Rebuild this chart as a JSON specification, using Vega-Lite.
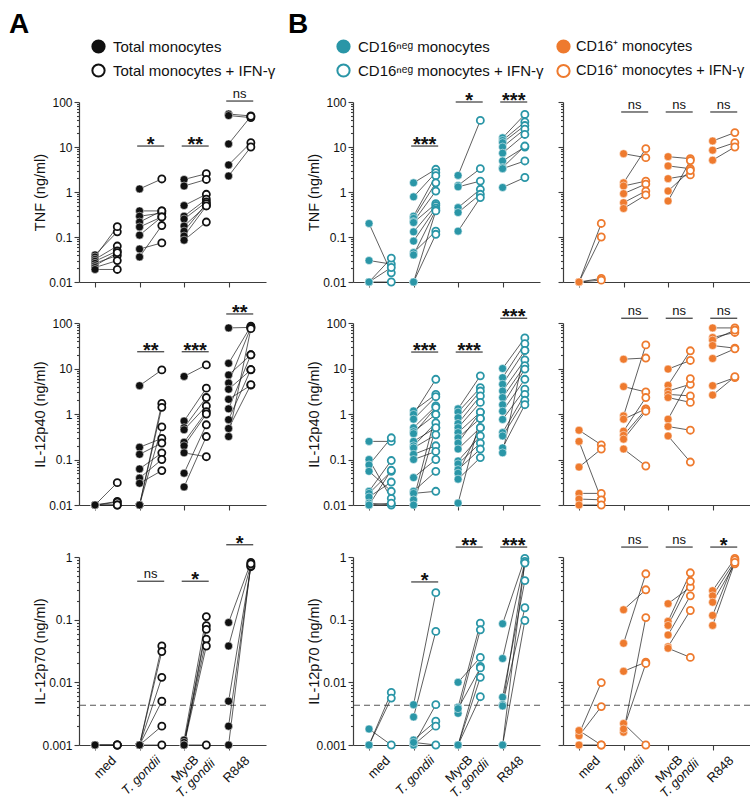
{
"$schema": "https://vega.github.io/schema/vega-lite/v6.json",
"padding": {"left": 9, "top": 39, "right": 2, "bottom": 2},
"background": "white",
"config": {
  "view": {"stroke": null},
  "font": "Liberation Sans",
  "axis": {"domainColor": "#3c3c3c", "tickColor": "#3c3c3c", "domainWidth": 1.2, "tickWidth": 1.1, "labelFontSize": 12, "labelColor": "#111111", "titleFontSize": 14.5, "titleFontWeight": "normal", "titleColor": "#111111", "labelPadding": 2, "labelFont": "Liberation Sans", "titleFont": "Liberation Sans"},
  "legend": {"labelFont": "Liberation Sans", "titleFont": "Liberation Sans"}
},
"datasets": {
"pts": [
{"p":"A1","s":1,"a":0.04,"b":0.13},{"p":"A1","s":1,"a":0.036,"b":0.17},{"p":"A1","s":1,"a":0.032,"b":0.063},{"p":"A1","s":1,"a":0.029,"b":0.049},{"p":"A1","s":1,"a":0.026,"b":0.039},{"p":"A1","s":1,"a":0.023,"b":0.045},{"p":"A1","s":1,"a":0.021,"b":0.03},{"p":"A1","s":1,"a":0.019,"b":0.019},
{"p":"A1","s":2,"a":1.17,"b":1.95},{"p":"A1","s":2,"a":0.38,"b":0.38},{"p":"A1","s":2,"a":0.29,"b":0.34},{"p":"A1","s":2,"a":0.215,"b":0.38},{"p":"A1","s":2,"a":0.167,"b":0.28},{"p":"A1","s":2,"a":0.11,"b":0.28},{"p":"A1","s":2,"a":0.054,"b":0.074},{"p":"A1","s":2,"a":0.036,"b":0.18},
{"p":"A1","s":3,"a":1.9,"b":2.55},{"p":"A1","s":3,"a":1.36,"b":1.9},{"p":"A1","s":3,"a":0.5,"b":0.89},{"p":"A1","s":3,"a":0.29,"b":0.69},{"p":"A1","s":3,"a":0.25,"b":0.6},{"p":"A1","s":3,"a":0.175,"b":0.5},{"p":"A1","s":3,"a":0.135,"b":0.55},{"p":"A1","s":3,"a":0.105,"b":0.49},{"p":"A1","s":3,"a":0.085,"b":0.215},
{"p":"A1","s":4,"a":54,"b":49},{"p":"A1","s":4,"a":50,"b":45},{"p":"A1","s":4,"a":11.7,"b":48},{"p":"A1","s":4,"a":4,"b":12.5},{"p":"A1","s":4,"a":2.27,"b":10},
{"p":"A2","s":1,"a":0.01,"b":0.031},{"p":"A2","s":1,"a":0.01,"b":0.012},{"p":"A2","s":1,"a":0.01,"b":0.0115},{"p":"A2","s":1,"a":0.01,"b":0.01},{"p":"A2","s":1,"a":0.01,"b":0.01},
{"p":"A2","s":2,"a":4.2,"b":9.3},{"p":"A2","s":2,"a":0.186,"b":0.29},{"p":"A2","s":2,"a":0.13,"b":0.23},{"p":"A2","s":2,"a":0.062,"b":0.14},{"p":"A2","s":2,"a":0.039,"b":0.1},{"p":"A2","s":2,"a":0.03,"b":0.057},{"p":"A2","s":2,"a":0.01,"b":1.71},{"p":"A2","s":2,"a":0.01,"b":1.4},{"p":"A2","s":2,"a":0.01,"b":0.52},
{"p":"A2","s":3,"a":6.7,"b":12},{"p":"A2","s":3,"a":0.7,"b":3.7},{"p":"A2","s":3,"a":0.5,"b":2.3},{"p":"A2","s":3,"a":0.45,"b":1.5},{"p":"A2","s":3,"a":0.24,"b":1.12},{"p":"A2","s":3,"a":0.2,"b":1.0},{"p":"A2","s":3,"a":0.14,"b":0.115},{"p":"A2","s":3,"a":0.05,"b":0.58},{"p":"A2","s":3,"a":0.025,"b":0.32},
{"p":"A2","s":4,"a":78,"b":80},{"p":"A2","s":4,"a":13,"b":85},{"p":"A2","s":4,"a":7.2,"b":20},{"p":"A2","s":4,"a":4.8,"b":80},{"p":"A2","s":4,"a":3.5,"b":9.3},{"p":"A2","s":4,"a":2.1,"b":4.3},{"p":"A2","s":4,"a":1.3,"b":20},{"p":"A2","s":4,"a":0.75,"b":9.5},{"p":"A2","s":4,"a":0.48,"b":4.4},{"p":"A2","s":4,"a":0.32,"b":75},
{"p":"A3","s":1,"a":0.001,"b":0.001},{"p":"A3","s":1,"a":0.001,"b":0.001},{"p":"A3","s":1,"a":0.001,"b":0.001},
{"p":"A3","s":2,"a":0.001,"b":0.038},{"p":"A3","s":2,"a":0.001,"b":0.031},{"p":"A3","s":2,"a":0.001,"b":0.012},{"p":"A3","s":2,"a":0.001,"b":0.005},{"p":"A3","s":2,"a":0.001,"b":0.002},{"p":"A3","s":2,"a":0.001,"b":0.001},
{"p":"A3","s":3,"a":0.0012,"b":0.112},{"p":"A3","s":3,"a":0.001,"b":0.08},{"p":"A3","s":3,"a":0.001,"b":0.07},{"p":"A3","s":3,"a":0.0011,"b":0.049},{"p":"A3","s":3,"a":0.001,"b":0.038},{"p":"A3","s":3,"a":0.001,"b":0.001},
{"p":"A3","s":4,"a":0.09,"b":0.82},{"p":"A3","s":4,"a":0.038,"b":0.75},{"p":"A3","s":4,"a":0.005,"b":0.7},{"p":"A3","s":4,"a":0.002,"b":0.72},{"p":"A3","s":4,"a":0.001,"b":0.78},
{"p":"B1","s":1,"a":0.2,"b":0.016},{"p":"B1","s":1,"a":0.03,"b":0.025},{"p":"B1","s":1,"a":0.01,"b":0.034},{"p":"B1","s":1,"a":0.01,"b":0.01},{"p":"B1","s":1,"a":0.01,"b":0.021},
{"p":"B1","s":2,"a":1.6,"b":3.2},{"p":"B1","s":2,"a":0.78,"b":2.7},{"p":"B1","s":2,"a":0.29,"b":2.3},{"p":"B1","s":2,"a":0.26,"b":1.6},{"p":"B1","s":2,"a":0.22,"b":1.05},{"p":"B1","s":2,"a":0.21,"b":0.55},{"p":"B1","s":2,"a":0.13,"b":0.5},{"p":"B1","s":2,"a":0.081,"b":0.44},{"p":"B1","s":2,"a":0.045,"b":0.135},{"p":"B1","s":2,"a":0.04,"b":0.4},{"p":"B1","s":2,"a":0.01,"b":0.38},{"p":"B1","s":2,"a":0.01,"b":0.115},
{"p":"B1","s":3,"a":2.34,"b":39},{"p":"B1","s":3,"a":1.4,"b":3.3},{"p":"B1","s":3,"a":1.3,"b":1.75},{"p":"B1","s":3,"a":0.45,"b":1.15},{"p":"B1","s":3,"a":0.35,"b":0.89},{"p":"B1","s":3,"a":0.135,"b":0.75},
{"p":"B1","s":4,"a":16,"b":53},{"p":"B1","s":4,"a":14,"b":36},{"p":"B1","s":4,"a":12.5,"b":30},{"p":"B1","s":4,"a":10,"b":25},{"p":"B1","s":4,"a":7.3,"b":19},{"p":"B1","s":4,"a":4.9,"b":10},{"p":"B1","s":4,"a":3.5,"b":10.5},{"p":"B1","s":4,"a":3.3,"b":4.9},{"p":"B1","s":4,"a":1.26,"b":2.1},
{"p":"B2","s":1,"a":0.25,"b":0.25},{"p":"B2","s":1,"a":0.1,"b":0.014},{"p":"B2","s":1,"a":0.076,"b":0.3},{"p":"B2","s":1,"a":0.055,"b":0.02},{"p":"B2","s":1,"a":0.02,"b":0.095},{"p":"B2","s":1,"a":0.018,"b":0.055},{"p":"B2","s":1,"a":0.015,"b":0.032},{"p":"B2","s":1,"a":0.011,"b":0.01},{"p":"B2","s":1,"a":0.01,"b":0.011},{"p":"B2","s":1,"a":0.01,"b":0.058},
{"p":"B2","s":2,"a":1.17,"b":2.7},{"p":"B2","s":2,"a":0.98,"b":5.8},{"p":"B2","s":2,"a":0.77,"b":2.4},{"p":"B2","s":2,"a":0.5,"b":1.5},{"p":"B2","s":2,"a":0.41,"b":0.98},{"p":"B2","s":2,"a":0.37,"b":1.4},{"p":"B2","s":2,"a":0.25,"b":0.5},{"p":"B2","s":2,"a":0.2,"b":0.64},{"p":"B2","s":2,"a":0.18,"b":0.35},{"p":"B2","s":2,"a":0.13,"b":0.2},{"p":"B2","s":2,"a":0.1,"b":0.15},{"p":"B2","s":2,"a":0.04,"b":0.1},{"p":"B2","s":2,"a":0.02,"b":0.055},{"p":"B2","s":2,"a":0.018,"b":0.02},{"p":"B2","s":2,"a":0.013,"b":0.98},{"p":"B2","s":2,"a":0.01,"b":0.5},
{"p":"B2","s":3,"a":1.3,"b":6.9},{"p":"B2","s":3,"a":1.1,"b":3.8},{"p":"B2","s":3,"a":0.83,"b":3.2},{"p":"B2","s":3,"a":0.62,"b":2.5},{"p":"B2","s":3,"a":0.5,"b":1.8},{"p":"B2","s":3,"a":0.39,"b":1.1},{"p":"B2","s":3,"a":0.3,"b":0.8},{"p":"B2","s":3,"a":0.23,"b":1.1},{"p":"B2","s":3,"a":0.17,"b":0.5},{"p":"B2","s":3,"a":0.093,"b":0.33},{"p":"B2","s":3,"a":0.08,"b":0.23},{"p":"B2","s":3,"a":0.06,"b":0.17},{"p":"B2","s":3,"a":0.05,"b":0.5},{"p":"B2","s":3,"a":0.037,"b":0.11},{"p":"B2","s":3,"a":0.011,"b":0.8},
{"p":"B2","s":4,"a":10,"b":47},{"p":"B2","s":4,"a":6.3,"b":35},{"p":"B2","s":4,"a":4.5,"b":25},{"p":"B2","s":4,"a":3.2,"b":15.5},{"p":"B2","s":4,"a":2.3,"b":11.5},{"p":"B2","s":4,"a":1.6,"b":9.7},{"p":"B2","s":4,"a":1.15,"b":5.8},{"p":"B2","s":4,"a":0.76,"b":3.5},{"p":"B2","s":4,"a":0.39,"b":2.7},{"p":"B2","s":4,"a":0.33,"b":2.0},{"p":"B2","s":4,"a":0.18,"b":1.6},{"p":"B2","s":4,"a":0.14,"b":25},
{"p":"B3","s":1,"a":0.0018,"b":0.001},{"p":"B3","s":1,"a":0.001,"b":0.0069},{"p":"B3","s":1,"a":0.001,"b":0.0056},
{"p":"B3","s":2,"a":0.0044,"b":0.27},{"p":"B3","s":2,"a":0.0028,"b":0.065},{"p":"B3","s":2,"a":0.0012,"b":0.0024},{"p":"B3","s":2,"a":0.001,"b":0.002},{"p":"B3","s":2,"a":0.001,"b":0.0044},{"p":"B3","s":2,"a":0.0011,"b":0.001},
{"p":"B3","s":3,"a":0.01,"b":0.025},{"p":"B3","s":3,"a":0.004,"b":0.088},{"p":"B3","s":3,"a":0.0032,"b":0.069},{"p":"B3","s":3,"a":0.001,"b":0.018},{"p":"B3","s":3,"a":0.001,"b":0.012},{"p":"B3","s":3,"a":0.001,"b":0.0059},{"p":"B3","s":3,"a":0.0038,"b":0.017},
{"p":"B3","s":4,"a":0.086,"b":0.95},{"p":"B3","s":4,"a":0.024,"b":0.83},{"p":"B3","s":4,"a":0.0058,"b":0.42},{"p":"B3","s":4,"a":0.0044,"b":0.155},{"p":"B3","s":4,"a":0.001,"b":0.097},{"p":"B3","s":4,"a":0.001,"b":0.85},{"p":"B3","s":4,"a":0.0042,"b":0.8},
{"p":"C1","s":1,"a":0.01,"b":0.2},{"p":"C1","s":1,"a":0.01,"b":0.1},{"p":"C1","s":1,"a":0.01,"b":0.012},{"p":"C1","s":1,"a":0.01,"b":0.011},
{"p":"C1","s":2,"a":7.1,"b":5.8},{"p":"C1","s":2,"a":1.6,"b":9.2},{"p":"C1","s":2,"a":1.36,"b":1.75},{"p":"C1","s":2,"a":0.92,"b":1.5},{"p":"C1","s":2,"a":0.58,"b":1.05},{"p":"C1","s":2,"a":0.43,"b":0.86},
{"p":"C1","s":3,"a":6.1,"b":5.5},{"p":"C1","s":3,"a":3.8,"b":3.3},{"p":"C1","s":3,"a":1.98,"b":2.4},{"p":"C1","s":3,"a":1.05,"b":3.0},{"p":"C1","s":3,"a":0.63,"b":5.0},
{"p":"C1","s":4,"a":13.6,"b":20.9},{"p":"C1","s":4,"a":8.5,"b":12.5},{"p":"C1","s":4,"a":5.1,"b":10},
{"p":"C2","s":1,"a":0.44,"b":0.21},{"p":"C2","s":1,"a":0.25,"b":0.0135},{"p":"C2","s":1,"a":0.068,"b":0.17},{"p":"C2","s":1,"a":0.018,"b":0.018},{"p":"C2","s":1,"a":0.0135,"b":0.013},{"p":"C2","s":1,"a":0.01,"b":0.01},
{"p":"C2","s":2,"a":16,"b":17},{"p":"C2","s":2,"a":4.0,"b":3.05},{"p":"C2","s":2,"a":0.91,"b":33},{"p":"C2","s":2,"a":0.77,"b":1.3},{"p":"C2","s":2,"a":0.42,"b":2.3},{"p":"C2","s":2,"a":0.34,"b":1.27},{"p":"C2","s":2,"a":0.28,"b":1.15},{"p":"C2","s":2,"a":0.17,"b":0.072},
{"p":"C2","s":3,"a":9.7,"b":15},{"p":"C2","s":3,"a":4.3,"b":24.5},{"p":"C2","s":3,"a":3.2,"b":4.5},{"p":"C2","s":3,"a":2.7,"b":2.5},{"p":"C2","s":3,"a":2.3,"b":1.8},{"p":"C2","s":3,"a":0.77,"b":6.0},{"p":"C2","s":3,"a":0.53,"b":0.44},{"p":"C2","s":3,"a":0.33,"b":0.088},
{"p":"C2","s":4,"a":78,"b":78},{"p":"C2","s":4,"a":48,"b":62},{"p":"C2","s":4,"a":42,"b":70},{"p":"C2","s":4,"a":32,"b":28},{"p":"C2","s":4,"a":16.6,"b":27},{"p":"C2","s":4,"a":4.2,"b":6.3},{"p":"C2","s":4,"a":2.6,"b":6.6},
{"p":"C3","s":1,"a":0.0015,"b":0.0099},{"p":"C3","s":1,"a":0.0014,"b":0.0041},{"p":"C3","s":1,"a":0.0017,"b":0.001},{"p":"C3","s":1,"a":0.001,"b":0.001},
{"p":"C3","s":2,"a":0.144,"b":0.3},{"p":"C3","s":2,"a":0.042,"b":0.54},{"p":"C3","s":2,"a":0.015,"b":0.021},{"p":"C3","s":2,"a":0.0022,"b":0.001},{"p":"C3","s":2,"a":0.0016,"b":0.108},{"p":"C3","s":2,"a":0.0018,"b":0.02},
{"p":"C3","s":3,"a":0.18,"b":0.33},{"p":"C3","s":3,"a":0.094,"b":0.56},{"p":"C3","s":3,"a":0.081,"b":0.41},{"p":"C3","s":3,"a":0.057,"b":0.24},{"p":"C3","s":3,"a":0.037,"b":0.14},{"p":"C3","s":3,"a":0.035,"b":0.025},
{"p":"C3","s":4,"a":0.29,"b":0.95},{"p":"C3","s":4,"a":0.24,"b":0.86},{"p":"C3","s":4,"a":0.19,"b":0.78},{"p":"C3","s":4,"a":0.117,"b":0.9},{"p":"C3","s":4,"a":0.081,"b":0.82}
],
"ann": [
{"p":"A1","s":2,"y":10.5,"t":"*"},{"p":"A1","s":3,"y":10.5,"t":"**"},{"p":"A1","s":4,"y":105,"t":"ns"},
{"p":"A2","s":2,"y":23.4,"t":"**"},{"p":"A2","s":3,"y":23.4,"t":"***"},{"p":"A2","s":4,"y":158,"t":"**"},
{"p":"A3","s":2,"y":0.41,"t":"ns"},{"p":"A3","s":3,"y":0.41,"t":"*"},{"p":"A3","s":4,"y":1.57,"t":"*"},
{"p":"B1","s":2,"y":10.5,"t":"***"},{"p":"B1","s":3,"y":100,"t":"*"},{"p":"B1","s":4,"y":100,"t":"***"},
{"p":"B2","s":2,"y":23,"t":"***"},{"p":"B2","s":3,"y":23,"t":"***"},{"p":"B2","s":4,"y":127,"t":"***"},
{"p":"B3","s":2,"y":0.4,"t":"*"},{"p":"B3","s":3,"y":1.44,"t":"**"},{"p":"B3","s":4,"y":1.44,"t":"***"},
{"p":"C1","s":2,"y":60,"t":"ns"},{"p":"C1","s":3,"y":60,"t":"ns"},{"p":"C1","s":4,"y":60,"t":"ns"},
{"p":"C2","s":2,"y":127,"t":"ns"},{"p":"C2","s":3,"y":127,"t":"ns"},{"p":"C2","s":4,"y":127,"t":"ns"},
{"p":"C3","s":2,"y":1.44,"t":"ns"},{"p":"C3","s":3,"y":1.44,"t":"ns"},{"p":"C3","s":4,"y":1.44,"t":"*"}
],
"xl": [
{"s":1,"t":"med"},{"s":2,"t":"T. gondii"},{"s":3,"t":"MycB"},{"s":3,"t":"T. gondii"},{"s":4,"t":"R848"}
],
"lod": [{"v":0.0043}]
},
"columns": 3,
"align": "each",
"spacing": {"row": 12, "column": 12},
"resolve": {"scale": {"fill": "independent"}, "legend": {"fill": "independent"}},
"concat": [
{"width":187,"height":180,"layer":[
{"data":{"name":"pts"},"transform":[{"filter":"datum.p=='A1'"}],"mark":{"type":"rule","xOffset":-11.13,"x2Offset":11.13,"color":"#1a1a1a","strokeWidth":0.7},
 "encoding":{"x":{"field":"s","type":"quantitative","scale":{"domain":[0.39,4.59],"nice":false,"zero":false},"axis":{"values":[0.75,1.25,1.75,2.25,2.75,3.25,3.75,4.25],"labels":false,"title":null,"grid":false,"tickSize":5,"minExtent":5}},"x2":{"field":"s"},
 "y":{"field":"a","type":"quantitative","scale":{"type":"log","domain":[0.01,100],"nice":false},"axis":{"values":[0.01,0.02,0.03,0.04,0.05,0.06,0.07,0.08,0.09,0.1,0.2,0.3,0.4,0.5,0.6,0.7,0.8,0.9,1,2,3,4,5,6,7,8,9,10,20,30,40,50,60,70,80,90,100],"labelExpr":"indexof([0.001,0.01,0.1,1,10,100], datum.value) >= 0 ? '' + datum.value : ''","tickSize":{"condition":{"test":"indexof([0.001,0.01,0.1,1,10,100], datum.value) >= 0","value":5},"value":2.5},"grid":false,"labelOverlap":false,"labelFlush":false,"title":"TNF (ng/ml)","titleX":-32,"titleY":90,"titleAngle":270,"titleBaseline":"bottom","titleAlign":"center"}},"y2":{"field":"b"}}},
{"data":{"name":"pts"},"transform":[{"filter":"datum.p=='A1'"}],"mark":{"type":"circle","xOffset":-11.13,"size":64,"opacity":1,"stroke":"#ffffff","strokeWidth":0.5},
 "encoding":{"x":{"field":"s","type":"quantitative"},"y":{"field":"a","type":"quantitative"},"fill":{"datum":"Total monocytes","type":"nominal","scale":{"domain":["Total monocytes","Total monocytes + IFN-γ"],"range":["#111111","#ffffff"]},
 "legend":{"orient":"none","legendX":-70,"legendY":-63,"direction":"vertical","title":"A","titleOrient":"left","titleAnchor":"start","titleBaseline":"bottom","titleFontSize":28,"titleFontWeight":"bold","titleColor":"#000000","titlePadding":61,"labelFontSize":15,"labelColor":"#111111","labelLimit":300,"labelOffset":7,"symbolType":"circle","symbolSize":150,"symbolStrokeWidth":2,"symbolStrokeColor":"#111111","symbolOpacity":1,"rowPadding":3,"padding":0,"encode":{"symbols":{"update":{"stroke":{"value":"#111111"},"strokeWidth":{"value":2}}}}}}}},
{"data":{"name":"pts"},"transform":[{"filter":"datum.p=='A1'"}],"mark":{"type":"circle","xOffset":11.13,"size":50,"opacity":1,"stroke":"#111111","strokeWidth":1.8},
 "encoding":{"x":{"field":"s","type":"quantitative"},"y":{"field":"b","type":"quantitative"},"fill":{"datum":"Total monocytes + IFN-γ","type":"nominal"}}},
{"data":{"name":"ann"},"transform":[{"filter":"datum.p=='A1'"}],"mark":{"type":"rule","xOffset":-13.5,"x2Offset":13.5,"color":"#555555","strokeWidth":1.4},
 "encoding":{"x":{"field":"s","type":"quantitative"},"x2":{"field":"s"},"y":{"field":"y","type":"quantitative"}}},
{"data":{"name":"ann"},"transform":[{"filter":"datum.p=='A1' && datum.t!='ns'"}],"mark":{"type":"text","fontSize":20,"fontWeight":"bold","baseline":"alphabetic","dy":5,"color":"#111111"},
 "encoding":{"x":{"field":"s","type":"quantitative"},"y":{"field":"y","type":"quantitative"},"text":{"field":"t"}}},
{"data":{"name":"ann"},"transform":[{"filter":"datum.p=='A1' && datum.t=='ns'"}],"mark":{"type":"text","fontSize":13,"baseline":"alphabetic","dy":-3,"color":"#111111"},
 "encoding":{"x":{"field":"s","type":"quantitative"},"y":{"field":"y","type":"quantitative"},"text":{"field":"t"}}}
]},
{"width":187,"height":180,"layer":[
{"data":{"name":"pts"},"transform":[{"filter":"datum.p=='B1'"}],"mark":{"type":"rule","xOffset":-11.13,"x2Offset":11.13,"color":"#1a1a1a","strokeWidth":0.7},
 "encoding":{"x":{"field":"s","type":"quantitative","scale":{"domain":[0.39,4.59],"nice":false,"zero":false},"axis":{"values":[0.75,1.25,1.75,2.25,2.75,3.25,3.75,4.25],"labels":false,"title":null,"grid":false,"tickSize":5,"minExtent":5}},"x2":{"field":"s"},
 "y":{"field":"a","type":"quantitative","scale":{"type":"log","domain":[0.01,100],"nice":false},"axis":{"values":[0.01,0.02,0.03,0.04,0.05,0.06,0.07,0.08,0.09,0.1,0.2,0.3,0.4,0.5,0.6,0.7,0.8,0.9,1,2,3,4,5,6,7,8,9,10,20,30,40,50,60,70,80,90,100],"labelExpr":"indexof([0.001,0.01,0.1,1,10,100], datum.value) >= 0 ? '' + datum.value : ''","tickSize":{"condition":{"test":"indexof([0.001,0.01,0.1,1,10,100], datum.value) >= 0","value":5},"value":2.5},"grid":false,"labelOverlap":false,"labelFlush":false,"title":"TNF (ng/ml)","titleX":-32,"titleY":90,"titleAngle":270,"titleBaseline":"bottom","titleAlign":"center"}},"y2":{"field":"b"}}},
{"data":{"name":"pts"},"transform":[{"filter":"datum.p=='B1'"}],"mark":{"type":"circle","xOffset":-11.13,"size":64,"opacity":1,"stroke":"#ffffff","strokeWidth":0.5},
 "encoding":{"x":{"field":"s","type":"quantitative"},"y":{"field":"a","type":"quantitative"},"fill":{"datum":"CD16ⁿᵉᵍ monocytes","type":"nominal","scale":{"domain":["CD16ⁿᵉᵍ monocytes","CD16ⁿᵉᵍ monocytes + IFN-γ"],"range":["#2a96a7","#ffffff"]},
 "legend":{"orient":"none","legendX":-65,"legendY":-63,"direction":"vertical","title":"B","titleOrient":"left","titleAnchor":"start","titleBaseline":"bottom","titleFontSize":28,"titleFontWeight":"bold","titleColor":"#000000","titlePadding":27,"labelFontSize":15,"labelColor":"#111111","labelLimit":300,"labelOffset":7,"symbolType":"circle","symbolSize":150,"symbolStrokeWidth":2,"symbolStrokeColor":"#2a96a7","symbolOpacity":1,"rowPadding":3,"padding":0,"encode":{"symbols":{"update":{"stroke":{"value":"#2a96a7"},"strokeWidth":{"value":2}}}}}}}},
{"data":{"name":"pts"},"transform":[{"filter":"datum.p=='B1'"}],"mark":{"type":"circle","xOffset":11.13,"size":50,"opacity":1,"stroke":"#2a96a7","strokeWidth":1.8},
 "encoding":{"x":{"field":"s","type":"quantitative"},"y":{"field":"b","type":"quantitative"},"fill":{"datum":"CD16ⁿᵉᵍ monocytes + IFN-γ","type":"nominal"}}},
{"data":{"name":"ann"},"transform":[{"filter":"datum.p=='B1'"}],"mark":{"type":"rule","xOffset":-13.5,"x2Offset":13.5,"color":"#555555","strokeWidth":1.4},
 "encoding":{"x":{"field":"s","type":"quantitative"},"x2":{"field":"s"},"y":{"field":"y","type":"quantitative"}}},
{"data":{"name":"ann"},"transform":[{"filter":"datum.p=='B1' && datum.t!='ns'"}],"mark":{"type":"text","fontSize":20,"fontWeight":"bold","baseline":"alphabetic","dy":5,"color":"#111111"},
 "encoding":{"x":{"field":"s","type":"quantitative"},"y":{"field":"y","type":"quantitative"},"text":{"field":"t"}}},
{"data":{"name":"ann"},"transform":[{"filter":"datum.p=='B1' && datum.t=='ns'"}],"mark":{"type":"text","fontSize":13,"baseline":"alphabetic","dy":-3,"color":"#111111"},
 "encoding":{"x":{"field":"s","type":"quantitative"},"y":{"field":"y","type":"quantitative"},"text":{"field":"t"}}}
]},
{"width":187,"height":180,"layer":[
{"data":{"name":"pts"},"transform":[{"filter":"datum.p=='C1'"}],"mark":{"type":"rule","xOffset":-11.13,"x2Offset":11.13,"color":"#1a1a1a","strokeWidth":0.7},
 "encoding":{"x":{"field":"s","type":"quantitative","scale":{"domain":[0.39,4.59],"nice":false,"zero":false},"axis":{"values":[0.75,1.25,1.75,2.25,2.75,3.25,3.75,4.25],"labels":false,"title":null,"grid":false,"tickSize":5,"minExtent":5}},"x2":{"field":"s"},
 "y":{"field":"a","type":"quantitative","scale":{"type":"log","domain":[0.01,100],"nice":false},"axis":{"values":[0.01,0.02,0.03,0.04,0.05,0.06,0.07,0.08,0.09,0.1,0.2,0.3,0.4,0.5,0.6,0.7,0.8,0.9,1,2,3,4,5,6,7,8,9,10,20,30,40,50,60,70,80,90,100],"labels":false,"tickSize":{"condition":{"test":"indexof([0.001,0.01,0.1,1,10,100], datum.value) >= 0","value":5},"value":2.5},"grid":false,"title":null}},"y2":{"field":"b"}}},
{"data":{"name":"pts"},"transform":[{"filter":"datum.p=='C1'"}],"mark":{"type":"circle","xOffset":-11.13,"size":64,"opacity":1,"stroke":"#ffffff","strokeWidth":0.5},
 "encoding":{"x":{"field":"s","type":"quantitative"},"y":{"field":"a","type":"quantitative"},"fill":{"datum":"CD16⁺ monocytes","type":"nominal","scale":{"domain":["CD16⁺ monocytes","CD16⁺ monocytes + IFN-γ"],"range":["#ee7a2e","#ffffff"]},
 "legend":{"orient":"none","legendX":-7,"legendY":-63,"direction":"vertical","title":null,"labelFontSize":14.5,"labelColor":"#111111","labelLimit":300,"labelOffset":5,"symbolType":"circle","symbolSize":150,"symbolStrokeWidth":2,"symbolStrokeColor":"#ee7a2e","symbolOpacity":1,"rowPadding":3.5,"padding":0,"encode":{"symbols":{"update":{"stroke":{"value":"#ee7a2e"},"strokeWidth":{"value":2}}}}}}}},
{"data":{"name":"pts"},"transform":[{"filter":"datum.p=='C1'"}],"mark":{"type":"circle","xOffset":11.13,"size":50,"opacity":1,"stroke":"#ee7a2e","strokeWidth":1.8},
 "encoding":{"x":{"field":"s","type":"quantitative"},"y":{"field":"b","type":"quantitative"},"fill":{"datum":"CD16⁺ monocytes + IFN-γ","type":"nominal"}}},
{"data":{"name":"ann"},"transform":[{"filter":"datum.p=='C1'"}],"mark":{"type":"rule","xOffset":-13.5,"x2Offset":13.5,"color":"#555555","strokeWidth":1.4},
 "encoding":{"x":{"field":"s","type":"quantitative"},"x2":{"field":"s"},"y":{"field":"y","type":"quantitative"}}},
{"data":{"name":"ann"},"transform":[{"filter":"datum.p=='C1' && datum.t!='ns'"}],"mark":{"type":"text","fontSize":20,"fontWeight":"bold","baseline":"alphabetic","dy":5,"color":"#111111"},
 "encoding":{"x":{"field":"s","type":"quantitative"},"y":{"field":"y","type":"quantitative"},"text":{"field":"t"}}},
{"data":{"name":"ann"},"transform":[{"filter":"datum.p=='C1' && datum.t=='ns'"}],"mark":{"type":"text","fontSize":13,"baseline":"alphabetic","dy":-3,"color":"#111111"},
 "encoding":{"x":{"field":"s","type":"quantitative"},"y":{"field":"y","type":"quantitative"},"text":{"field":"t"}}}
]},
{"width":187,"height":182,"layer":[
{"data":{"name":"pts"},"transform":[{"filter":"datum.p=='A2'"}],"mark":{"type":"rule","xOffset":-11.13,"x2Offset":11.13,"color":"#1a1a1a","strokeWidth":0.7},
 "encoding":{"x":{"field":"s","type":"quantitative","scale":{"domain":[0.39,4.59],"nice":false,"zero":false},"axis":{"values":[0.75,1.25,1.75,2.25,2.75,3.25,3.75,4.25],"labels":false,"title":null,"grid":false,"tickSize":5,"minExtent":16}},"x2":{"field":"s"},
 "y":{"field":"a","type":"quantitative","scale":{"type":"log","domain":[0.01,100],"nice":false},"axis":{"values":[0.01,0.02,0.03,0.04,0.05,0.06,0.07,0.08,0.09,0.1,0.2,0.3,0.4,0.5,0.6,0.7,0.8,0.9,1,2,3,4,5,6,7,8,9,10,20,30,40,50,60,70,80,90,100],"labelExpr":"indexof([0.001,0.01,0.1,1,10,100], datum.value) >= 0 ? '' + datum.value : ''","tickSize":{"condition":{"test":"indexof([0.001,0.01,0.1,1,10,100], datum.value) >= 0","value":5},"value":2.5},"grid":false,"labelOverlap":false,"labelFlush":false,"title":"IL-12p40 (ng/ml)","titleX":-32,"titleY":91,"titleAngle":270,"titleBaseline":"bottom","titleAlign":"center"}},"y2":{"field":"b"}}},
{"data":{"name":"pts"},"transform":[{"filter":"datum.p=='A2'"}],"mark":{"type":"circle","xOffset":-11.13,"size":64,"opacity":1,"stroke":"#ffffff","strokeWidth":0.5,"fill":"#111111"},
 "encoding":{"x":{"field":"s","type":"quantitative"},"y":{"field":"a","type":"quantitative"}}},
{"data":{"name":"pts"},"transform":[{"filter":"datum.p=='A2'"}],"mark":{"type":"circle","xOffset":11.13,"size":50,"opacity":1,"stroke":"#111111","strokeWidth":1.8,"fill":"#ffffff"},
 "encoding":{"x":{"field":"s","type":"quantitative"},"y":{"field":"b","type":"quantitative"}}},
{"data":{"name":"ann"},"transform":[{"filter":"datum.p=='A2'"}],"mark":{"type":"rule","xOffset":-13.5,"x2Offset":13.5,"color":"#555555","strokeWidth":1.4},
 "encoding":{"x":{"field":"s","type":"quantitative"},"x2":{"field":"s"},"y":{"field":"y","type":"quantitative"}}},
{"data":{"name":"ann"},"transform":[{"filter":"datum.p=='A2' && datum.t!='ns'"}],"mark":{"type":"text","fontSize":20,"fontWeight":"bold","baseline":"alphabetic","dy":5,"color":"#111111"},
 "encoding":{"x":{"field":"s","type":"quantitative"},"y":{"field":"y","type":"quantitative"},"text":{"field":"t"}}},
{"data":{"name":"ann"},"transform":[{"filter":"datum.p=='A2' && datum.t=='ns'"}],"mark":{"type":"text","fontSize":13,"baseline":"alphabetic","dy":-3,"color":"#111111"},
 "encoding":{"x":{"field":"s","type":"quantitative"},"y":{"field":"y","type":"quantitative"},"text":{"field":"t"}}}
]},
{"width":187,"height":182,"layer":[
{"data":{"name":"pts"},"transform":[{"filter":"datum.p=='B2'"}],"mark":{"type":"rule","xOffset":-11.13,"x2Offset":11.13,"color":"#1a1a1a","strokeWidth":0.7},
 "encoding":{"x":{"field":"s","type":"quantitative","scale":{"domain":[0.39,4.59],"nice":false,"zero":false},"axis":{"values":[0.75,1.25,1.75,2.25,2.75,3.25,3.75,4.25],"labels":false,"title":null,"grid":false,"tickSize":5,"minExtent":16}},"x2":{"field":"s"},
 "y":{"field":"a","type":"quantitative","scale":{"type":"log","domain":[0.01,100],"nice":false},"axis":{"values":[0.01,0.02,0.03,0.04,0.05,0.06,0.07,0.08,0.09,0.1,0.2,0.3,0.4,0.5,0.6,0.7,0.8,0.9,1,2,3,4,5,6,7,8,9,10,20,30,40,50,60,70,80,90,100],"labelExpr":"indexof([0.001,0.01,0.1,1,10,100], datum.value) >= 0 ? '' + datum.value : ''","tickSize":{"condition":{"test":"indexof([0.001,0.01,0.1,1,10,100], datum.value) >= 0","value":5},"value":2.5},"grid":false,"labelOverlap":false,"labelFlush":false,"title":"IL-12p40 (ng/ml)","titleX":-32,"titleY":91,"titleAngle":270,"titleBaseline":"bottom","titleAlign":"center"}},"y2":{"field":"b"}}},
{"data":{"name":"pts"},"transform":[{"filter":"datum.p=='B2'"}],"mark":{"type":"circle","xOffset":-11.13,"size":64,"opacity":1,"stroke":"#ffffff","strokeWidth":0.5,"fill":"#2a96a7"},
 "encoding":{"x":{"field":"s","type":"quantitative"},"y":{"field":"a","type":"quantitative"}}},
{"data":{"name":"pts"},"transform":[{"filter":"datum.p=='B2'"}],"mark":{"type":"circle","xOffset":11.13,"size":50,"opacity":1,"stroke":"#2a96a7","strokeWidth":1.8,"fill":"#ffffff"},
 "encoding":{"x":{"field":"s","type":"quantitative"},"y":{"field":"b","type":"quantitative"}}},
{"data":{"name":"ann"},"transform":[{"filter":"datum.p=='B2'"}],"mark":{"type":"rule","xOffset":-13.5,"x2Offset":13.5,"color":"#555555","strokeWidth":1.4},
 "encoding":{"x":{"field":"s","type":"quantitative"},"x2":{"field":"s"},"y":{"field":"y","type":"quantitative"}}},
{"data":{"name":"ann"},"transform":[{"filter":"datum.p=='B2' && datum.t!='ns'"}],"mark":{"type":"text","fontSize":20,"fontWeight":"bold","baseline":"alphabetic","dy":5,"color":"#111111"},
 "encoding":{"x":{"field":"s","type":"quantitative"},"y":{"field":"y","type":"quantitative"},"text":{"field":"t"}}},
{"data":{"name":"ann"},"transform":[{"filter":"datum.p=='B2' && datum.t=='ns'"}],"mark":{"type":"text","fontSize":13,"baseline":"alphabetic","dy":-3,"color":"#111111"},
 "encoding":{"x":{"field":"s","type":"quantitative"},"y":{"field":"y","type":"quantitative"},"text":{"field":"t"}}}
]},
{"width":187,"height":182,"layer":[
{"data":{"name":"pts"},"transform":[{"filter":"datum.p=='C2'"}],"mark":{"type":"rule","xOffset":-11.13,"x2Offset":11.13,"color":"#1a1a1a","strokeWidth":0.7},
 "encoding":{"x":{"field":"s","type":"quantitative","scale":{"domain":[0.39,4.59],"nice":false,"zero":false},"axis":{"values":[0.75,1.25,1.75,2.25,2.75,3.25,3.75,4.25],"labels":false,"title":null,"grid":false,"tickSize":5,"minExtent":16}},"x2":{"field":"s"},
 "y":{"field":"a","type":"quantitative","scale":{"type":"log","domain":[0.01,100],"nice":false},"axis":{"values":[0.01,0.02,0.03,0.04,0.05,0.06,0.07,0.08,0.09,0.1,0.2,0.3,0.4,0.5,0.6,0.7,0.8,0.9,1,2,3,4,5,6,7,8,9,10,20,30,40,50,60,70,80,90,100],"labels":false,"tickSize":{"condition":{"test":"indexof([0.001,0.01,0.1,1,10,100], datum.value) >= 0","value":5},"value":2.5},"grid":false,"title":null}},"y2":{"field":"b"}}},
{"data":{"name":"pts"},"transform":[{"filter":"datum.p=='C2'"}],"mark":{"type":"circle","xOffset":-11.13,"size":64,"opacity":1,"stroke":"#ffffff","strokeWidth":0.5,"fill":"#ee7a2e"},
 "encoding":{"x":{"field":"s","type":"quantitative"},"y":{"field":"a","type":"quantitative"}}},
{"data":{"name":"pts"},"transform":[{"filter":"datum.p=='C2'"}],"mark":{"type":"circle","xOffset":11.13,"size":50,"opacity":1,"stroke":"#ee7a2e","strokeWidth":1.8,"fill":"#ffffff"},
 "encoding":{"x":{"field":"s","type":"quantitative"},"y":{"field":"b","type":"quantitative"}}},
{"data":{"name":"ann"},"transform":[{"filter":"datum.p=='C2'"}],"mark":{"type":"rule","xOffset":-13.5,"x2Offset":13.5,"color":"#555555","strokeWidth":1.4},
 "encoding":{"x":{"field":"s","type":"quantitative"},"x2":{"field":"s"},"y":{"field":"y","type":"quantitative"}}},
{"data":{"name":"ann"},"transform":[{"filter":"datum.p=='C2' && datum.t!='ns'"}],"mark":{"type":"text","fontSize":20,"fontWeight":"bold","baseline":"alphabetic","dy":5,"color":"#111111"},
 "encoding":{"x":{"field":"s","type":"quantitative"},"y":{"field":"y","type":"quantitative"},"text":{"field":"t"}}},
{"data":{"name":"ann"},"transform":[{"filter":"datum.p=='C2' && datum.t=='ns'"}],"mark":{"type":"text","fontSize":13,"baseline":"alphabetic","dy":-3,"color":"#111111"},
 "encoding":{"x":{"field":"s","type":"quantitative"},"y":{"field":"y","type":"quantitative"},"text":{"field":"t"}}}
]},
{"width":187,"height":188,"layer":[
{"data":{"name":"lod"},"mark":{"type":"rule","strokeDash":[6,4],"color":"#555555","strokeWidth":1.1},
 "encoding":{"y":{"field":"v","type":"quantitative","scale":{"type":"log","domain":[0.001,1],"nice":false},"axis":{"values":[0.001,0.002,0.003,0.004,0.005,0.006,0.007,0.008,0.009,0.01,0.02,0.03,0.04,0.05,0.06,0.07,0.08,0.09,0.1,0.2,0.3,0.4,0.5,0.6,0.7,0.8,0.9,1],"labelExpr":"indexof([0.001,0.01,0.1,1,10,100], datum.value) >= 0 ? '' + datum.value : ''","tickSize":{"condition":{"test":"indexof([0.001,0.01,0.1,1,10,100], datum.value) >= 0","value":5},"value":2.5},"grid":false,"labelOverlap":false,"labelFlush":false,"title":"IL-12p70 (ng/ml)","titleX":-32,"titleY":94,"titleAngle":270,"titleBaseline":"bottom","titleAlign":"center"}}}},
{"data":{"name":"pts"},"transform":[{"filter":"datum.p=='A3'"}],"mark":{"type":"rule","xOffset":-11.13,"x2Offset":11.13,"color":"#1a1a1a","strokeWidth":0.7},
 "encoding":{"x":{"field":"s","type":"quantitative","scale":{"domain":[0.39,4.59],"nice":false,"zero":false},"axis":{"values":[0.75,1.25,1.75,2.25,2.75,3.25,3.75,4.25],"labels":false,"title":null,"grid":false,"tickSize":5}},"x2":{"field":"s"},
 "y":{"field":"a","type":"quantitative"},"y2":{"field":"b"}}},
{"data":{"name":"pts"},"transform":[{"filter":"datum.p=='A3'"}],"mark":{"type":"circle","xOffset":-11.13,"size":64,"opacity":1,"stroke":"#ffffff","strokeWidth":0.5,"fill":"#111111"},
 "encoding":{"x":{"field":"s","type":"quantitative"},"y":{"field":"a","type":"quantitative"}}},
{"data":{"name":"pts"},"transform":[{"filter":"datum.p=='A3'"}],"mark":{"type":"circle","xOffset":11.13,"size":50,"opacity":1,"stroke":"#111111","strokeWidth":1.8,"fill":"#ffffff"},
 "encoding":{"x":{"field":"s","type":"quantitative"},"y":{"field":"b","type":"quantitative"}}},
{"data":{"name":"ann"},"transform":[{"filter":"datum.p=='A3'"}],"mark":{"type":"rule","xOffset":-13.5,"x2Offset":13.5,"color":"#555555","strokeWidth":1.4},
 "encoding":{"x":{"field":"s","type":"quantitative"},"x2":{"field":"s"},"y":{"field":"y","type":"quantitative"}}},
{"data":{"name":"ann"},"transform":[{"filter":"datum.p=='A3' && datum.t!='ns'"}],"mark":{"type":"text","fontSize":20,"fontWeight":"bold","baseline":"alphabetic","dy":5,"color":"#111111"},
 "encoding":{"x":{"field":"s","type":"quantitative"},"y":{"field":"y","type":"quantitative"},"text":{"field":"t"}}},
{"data":{"name":"ann"},"transform":[{"filter":"datum.p=='A3' && datum.t=='ns'"}],"mark":{"type":"text","fontSize":13,"baseline":"alphabetic","dy":-3,"color":"#111111"},
 "encoding":{"x":{"field":"s","type":"quantitative"},"y":{"field":"y","type":"quantitative"},"text":{"field":"t"}}},
{"data":{"name":"xl"},"transform":[{"filter":"datum.s==1 || datum.s==4"}],"mark":{"type":"text","angle":315,"align":"right","baseline":"middle","fontSize":13,"dx":-4,"dy":15,"color":"#111111"},
 "encoding":{"x":{"field":"s","type":"quantitative"},"y":{"datum":0.001,"type":"quantitative"},"text":{"field":"t"}}},
{"data":{"name":"xl"},"transform":[{"filter":"datum.s==2"}],"mark":{"type":"text","angle":315,"align":"right","baseline":"middle","fontSize":13,"fontStyle":"italic","dx":-4,"dy":15,"color":"#111111"},
 "encoding":{"x":{"field":"s","type":"quantitative"},"y":{"datum":0.001,"type":"quantitative"},"text":{"field":"t"}}},
{"data":{"name":"xl"},"transform":[{"filter":"datum.t=='MycB'"}],"mark":{"type":"text","angle":315,"align":"right","baseline":"middle","fontSize":13,"dx":-8,"dy":10,"color":"#111111"},
 "encoding":{"x":{"field":"s","type":"quantitative"},"y":{"datum":0.001,"type":"quantitative"},"text":{"field":"t"}}},
{"data":{"name":"xl"},"transform":[{"filter":"datum.s==3 && datum.t!='MycB'"}],"mark":{"type":"text","angle":315,"align":"right","baseline":"middle","fontSize":13,"fontStyle":"italic","dx":1,"dy":24,"color":"#111111"},
 "encoding":{"x":{"field":"s","type":"quantitative"},"y":{"datum":0.001,"type":"quantitative"},"text":{"field":"t"}}}
]},
{"width":187,"height":188,"layer":[
{"data":{"name":"lod"},"mark":{"type":"rule","strokeDash":[6,4],"color":"#555555","strokeWidth":1.1},
 "encoding":{"y":{"field":"v","type":"quantitative","scale":{"type":"log","domain":[0.001,1],"nice":false},"axis":{"values":[0.001,0.002,0.003,0.004,0.005,0.006,0.007,0.008,0.009,0.01,0.02,0.03,0.04,0.05,0.06,0.07,0.08,0.09,0.1,0.2,0.3,0.4,0.5,0.6,0.7,0.8,0.9,1],"labelExpr":"indexof([0.001,0.01,0.1,1,10,100], datum.value) >= 0 ? '' + datum.value : ''","tickSize":{"condition":{"test":"indexof([0.001,0.01,0.1,1,10,100], datum.value) >= 0","value":5},"value":2.5},"grid":false,"labelOverlap":false,"labelFlush":false,"title":"IL-12p70 (ng/ml)","titleX":-32,"titleY":94,"titleAngle":270,"titleBaseline":"bottom","titleAlign":"center"}}}},
{"data":{"name":"pts"},"transform":[{"filter":"datum.p=='B3'"}],"mark":{"type":"rule","xOffset":-11.13,"x2Offset":11.13,"color":"#1a1a1a","strokeWidth":0.7},
 "encoding":{"x":{"field":"s","type":"quantitative","scale":{"domain":[0.39,4.59],"nice":false,"zero":false},"axis":{"values":[0.75,1.25,1.75,2.25,2.75,3.25,3.75,4.25],"labels":false,"title":null,"grid":false,"tickSize":5}},"x2":{"field":"s"},
 "y":{"field":"a","type":"quantitative"},"y2":{"field":"b"}}},
{"data":{"name":"pts"},"transform":[{"filter":"datum.p=='B3'"}],"mark":{"type":"circle","xOffset":-11.13,"size":64,"opacity":1,"stroke":"#ffffff","strokeWidth":0.5,"fill":"#2a96a7"},
 "encoding":{"x":{"field":"s","type":"quantitative"},"y":{"field":"a","type":"quantitative"}}},
{"data":{"name":"pts"},"transform":[{"filter":"datum.p=='B3'"}],"mark":{"type":"circle","xOffset":11.13,"size":50,"opacity":1,"stroke":"#2a96a7","strokeWidth":1.8,"fill":"#ffffff"},
 "encoding":{"x":{"field":"s","type":"quantitative"},"y":{"field":"b","type":"quantitative"}}},
{"data":{"name":"ann"},"transform":[{"filter":"datum.p=='B3'"}],"mark":{"type":"rule","xOffset":-13.5,"x2Offset":13.5,"color":"#555555","strokeWidth":1.4},
 "encoding":{"x":{"field":"s","type":"quantitative"},"x2":{"field":"s"},"y":{"field":"y","type":"quantitative"}}},
{"data":{"name":"ann"},"transform":[{"filter":"datum.p=='B3' && datum.t!='ns'"}],"mark":{"type":"text","fontSize":20,"fontWeight":"bold","baseline":"alphabetic","dy":5,"color":"#111111"},
 "encoding":{"x":{"field":"s","type":"quantitative"},"y":{"field":"y","type":"quantitative"},"text":{"field":"t"}}},
{"data":{"name":"ann"},"transform":[{"filter":"datum.p=='B3' && datum.t=='ns'"}],"mark":{"type":"text","fontSize":13,"baseline":"alphabetic","dy":-3,"color":"#111111"},
 "encoding":{"x":{"field":"s","type":"quantitative"},"y":{"field":"y","type":"quantitative"},"text":{"field":"t"}}},
{"data":{"name":"xl"},"transform":[{"filter":"datum.s==1 || datum.s==4"}],"mark":{"type":"text","angle":315,"align":"right","baseline":"middle","fontSize":13,"dx":-4,"dy":15,"color":"#111111"},
 "encoding":{"x":{"field":"s","type":"quantitative"},"y":{"datum":0.001,"type":"quantitative"},"text":{"field":"t"}}},
{"data":{"name":"xl"},"transform":[{"filter":"datum.s==2"}],"mark":{"type":"text","angle":315,"align":"right","baseline":"middle","fontSize":13,"fontStyle":"italic","dx":-4,"dy":15,"color":"#111111"},
 "encoding":{"x":{"field":"s","type":"quantitative"},"y":{"datum":0.001,"type":"quantitative"},"text":{"field":"t"}}},
{"data":{"name":"xl"},"transform":[{"filter":"datum.t=='MycB'"}],"mark":{"type":"text","angle":315,"align":"right","baseline":"middle","fontSize":13,"dx":-8,"dy":10,"color":"#111111"},
 "encoding":{"x":{"field":"s","type":"quantitative"},"y":{"datum":0.001,"type":"quantitative"},"text":{"field":"t"}}},
{"data":{"name":"xl"},"transform":[{"filter":"datum.s==3 && datum.t!='MycB'"}],"mark":{"type":"text","angle":315,"align":"right","baseline":"middle","fontSize":13,"fontStyle":"italic","dx":1,"dy":24,"color":"#111111"},
 "encoding":{"x":{"field":"s","type":"quantitative"},"y":{"datum":0.001,"type":"quantitative"},"text":{"field":"t"}}}
]},
{"width":187,"height":188,"layer":[
{"data":{"name":"lod"},"mark":{"type":"rule","strokeDash":[6,4],"color":"#555555","strokeWidth":1.1},
 "encoding":{"y":{"field":"v","type":"quantitative","scale":{"type":"log","domain":[0.001,1],"nice":false},"axis":{"values":[0.001,0.002,0.003,0.004,0.005,0.006,0.007,0.008,0.009,0.01,0.02,0.03,0.04,0.05,0.06,0.07,0.08,0.09,0.1,0.2,0.3,0.4,0.5,0.6,0.7,0.8,0.9,1],"labels":false,"tickSize":{"condition":{"test":"indexof([0.001,0.01,0.1,1,10,100], datum.value) >= 0","value":5},"value":2.5},"grid":false,"title":null}}}},
{"data":{"name":"pts"},"transform":[{"filter":"datum.p=='C3'"}],"mark":{"type":"rule","xOffset":-11.13,"x2Offset":11.13,"color":"#1a1a1a","strokeWidth":0.7},
 "encoding":{"x":{"field":"s","type":"quantitative","scale":{"domain":[0.39,4.59],"nice":false,"zero":false},"axis":{"values":[0.75,1.25,1.75,2.25,2.75,3.25,3.75,4.25],"labels":false,"title":null,"grid":false,"tickSize":5}},"x2":{"field":"s"},
 "y":{"field":"a","type":"quantitative"},"y2":{"field":"b"}}},
{"data":{"name":"pts"},"transform":[{"filter":"datum.p=='C3'"}],"mark":{"type":"circle","xOffset":-11.13,"size":64,"opacity":1,"stroke":"#ffffff","strokeWidth":0.5,"fill":"#ee7a2e"},
 "encoding":{"x":{"field":"s","type":"quantitative"},"y":{"field":"a","type":"quantitative"}}},
{"data":{"name":"pts"},"transform":[{"filter":"datum.p=='C3'"}],"mark":{"type":"circle","xOffset":11.13,"size":50,"opacity":1,"stroke":"#ee7a2e","strokeWidth":1.8,"fill":"#ffffff"},
 "encoding":{"x":{"field":"s","type":"quantitative"},"y":{"field":"b","type":"quantitative"}}},
{"data":{"name":"ann"},"transform":[{"filter":"datum.p=='C3'"}],"mark":{"type":"rule","xOffset":-13.5,"x2Offset":13.5,"color":"#555555","strokeWidth":1.4},
 "encoding":{"x":{"field":"s","type":"quantitative"},"x2":{"field":"s"},"y":{"field":"y","type":"quantitative"}}},
{"data":{"name":"ann"},"transform":[{"filter":"datum.p=='C3' && datum.t!='ns'"}],"mark":{"type":"text","fontSize":20,"fontWeight":"bold","baseline":"alphabetic","dy":5,"color":"#111111"},
 "encoding":{"x":{"field":"s","type":"quantitative"},"y":{"field":"y","type":"quantitative"},"text":{"field":"t"}}},
{"data":{"name":"ann"},"transform":[{"filter":"datum.p=='C3' && datum.t=='ns'"}],"mark":{"type":"text","fontSize":13,"baseline":"alphabetic","dy":-3,"color":"#111111"},
 "encoding":{"x":{"field":"s","type":"quantitative"},"y":{"field":"y","type":"quantitative"},"text":{"field":"t"}}},
{"data":{"name":"xl"},"transform":[{"filter":"datum.s==1 || datum.s==4"}],"mark":{"type":"text","angle":315,"align":"right","baseline":"middle","fontSize":13,"dx":-4,"dy":15,"color":"#111111"},
 "encoding":{"x":{"field":"s","type":"quantitative"},"y":{"datum":0.001,"type":"quantitative"},"text":{"field":"t"}}},
{"data":{"name":"xl"},"transform":[{"filter":"datum.s==2"}],"mark":{"type":"text","angle":315,"align":"right","baseline":"middle","fontSize":13,"fontStyle":"italic","dx":-4,"dy":15,"color":"#111111"},
 "encoding":{"x":{"field":"s","type":"quantitative"},"y":{"datum":0.001,"type":"quantitative"},"text":{"field":"t"}}},
{"data":{"name":"xl"},"transform":[{"filter":"datum.t=='MycB'"}],"mark":{"type":"text","angle":315,"align":"right","baseline":"middle","fontSize":13,"dx":-8,"dy":10,"color":"#111111"},
 "encoding":{"x":{"field":"s","type":"quantitative"},"y":{"datum":0.001,"type":"quantitative"},"text":{"field":"t"}}},
{"data":{"name":"xl"},"transform":[{"filter":"datum.s==3 && datum.t!='MycB'"}],"mark":{"type":"text","angle":315,"align":"right","baseline":"middle","fontSize":13,"fontStyle":"italic","dx":1,"dy":24,"color":"#111111"},
 "encoding":{"x":{"field":"s","type":"quantitative"},"y":{"datum":0.001,"type":"quantitative"},"text":{"field":"t"}}}
]}
]
}
